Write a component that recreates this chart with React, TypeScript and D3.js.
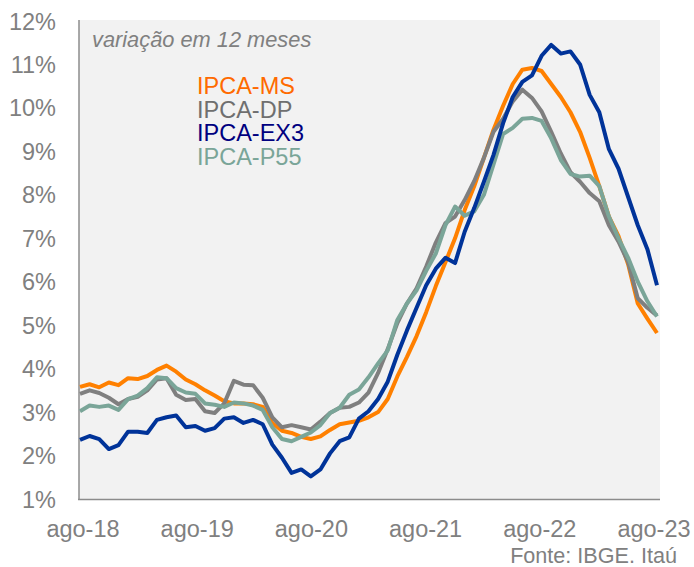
import React, { useRef, useEffect } from 'react';
import * as d3 from 'd3';

// 12-month variation, monthly from ago-18 to ago-23
const ipcaMS = [
  3.58, 3.64, 3.57, 3.68, 3.62, 3.78, 3.76, 3.83, 3.97, 4.07, 3.93, 3.75,
  3.64, 3.5, 3.38, 3.25, 3.2, 3.2, 3.18, 3.12, 2.75, 2.57, 2.52, 2.43,
  2.38, 2.44, 2.59, 2.72, 2.76, 2.8, 2.88, 3.0, 3.3, 3.82, 4.27, 4.75,
  5.3, 5.9, 6.45, 7.0, 7.65, 8.2, 8.85, 9.5, 10.05, 10.55, 10.88, 10.92,
  10.85, 10.55, 10.25, 9.9, 9.45, 8.85, 8.2, 7.5, 7.05, 6.4, 5.5, 5.15, 4.82,
];
const ipcaDP = [
  3.42, 3.5, 3.44, 3.33, 3.18, 3.3, 3.35, 3.5, 3.75, 3.78, 3.4, 3.28,
  3.3, 3.02, 2.98, 3.2, 3.72, 3.63, 3.62, 3.33, 2.88, 2.65, 2.7, 2.65,
  2.6, 2.78, 2.98, 3.1, 3.12, 3.22, 3.45, 3.9, 4.45, 5.05, 5.5, 5.85,
  6.35, 6.9, 7.35, 7.5, 7.88, 8.32, 8.85, 9.45, 9.75, 10.15, 10.42, 10.23,
  9.92, 9.45, 8.95, 8.52, 8.3, 8.04, 7.85, 7.3, 6.92, 6.45, 5.62, 5.4, 5.22,
];
const ipcaEX3 = [
  2.36, 2.45, 2.38, 2.15, 2.24, 2.55, 2.55, 2.52, 2.82, 2.88, 2.92, 2.65,
  2.68, 2.57, 2.63, 2.85, 2.88, 2.75, 2.82, 2.72, 2.25, 1.95, 1.6, 1.68,
  1.52, 1.68, 2.05, 2.33, 2.42, 2.85, 3.02, 3.3, 3.7, 4.32, 4.88, 5.4,
  5.92, 6.3, 6.55, 6.43, 7.15, 7.7, 8.3, 8.92, 9.65, 10.25, 10.6, 10.75,
  11.2, 11.45, 11.25, 11.3, 11.0, 10.3, 9.9, 9.05, 8.6, 7.95, 7.3, 6.75, 5.92,
];
const ipcaP55 = [
  3.02, 3.15, 3.12, 3.15, 3.05, 3.3, 3.38, 3.55, 3.8, 3.78, 3.55, 3.45,
  3.42, 3.2, 3.17, 3.12, 3.22, 3.2, 3.15, 3.05, 2.65, 2.38, 2.33, 2.43,
  2.53, 2.7, 2.98, 3.1, 3.4, 3.52, 3.8, 4.12, 4.42, 5.12, 5.5, 5.8,
  6.25, 6.65, 7.3, 7.73, 7.52, 7.62, 8.0, 8.7, 9.4, 9.54, 9.75, 9.77,
  9.7, 9.3, 8.8, 8.48, 8.42, 8.44, 8.2, 7.5, 7.0, 6.55, 6.0, 5.55, 5.2,
];

const xTickLabels = ['ago-18', 'ago-19', 'ago-20', 'ago-21', 'ago-22', 'ago-23'];
const yTicks = [1, 2, 3, 4, 5, 6, 7, 8, 9, 10, 11, 12];

const series = [
  { name: 'IPCA-MS', values: ipcaMS, line: '#ff8000', text: '#ff6a00' },
  { name: 'IPCA-DP', values: ipcaDP, line: '#7f7f7f', text: '#6f6f6f' },
  { name: 'IPCA-P55', values: ipcaP55, line: '#7aa598', text: '#7aa598' },
  { name: 'IPCA-EX3', values: ipcaEX3, line: '#003399', text: '#000080' },
];
const legendOrder = ['IPCA-MS', 'IPCA-DP', 'IPCA-EX3', 'IPCA-P55'];

const App: React.FC = () => {
  const ref = useRef<SVGSVGElement | null>(null);

  useEffect(() => {
    const svg = d3.select(ref.current);
    svg.selectAll('*').remove();

    const font = 'Liberation Sans, Arial, sans-serif';
    const x = d3.scaleLinear().domain([0, 60]).range([80, 657]);
    const y = d3.scaleLinear().domain([1, 12]).range([499, 21]);
    const xLab = d3.scalePoint<string>().domain(xTickLabels).range([83, 654]);

    svg.append('rect')
      .attr('x', 79).attr('y', 20)
      .attr('width', 581).attr('height', 480)
      .attr('fill', '#f2f2f2');

    svg.append('line')
      .attr('x1', 79).attr('x2', 79).attr('y1', 20).attr('y2', 500)
      .attr('stroke', '#8c8c8c').attr('stroke-width', 1.5);
    svg.append('line')
      .attr('x1', 78).attr('x2', 660).attr('y1', 499.5).attr('y2', 499.5)
      .attr('stroke', '#8c8c8c').attr('stroke-width', 1.5);

    svg.append('g').selectAll('text')
      .data(yTicks)
      .join('text')
      .attr('x', 56)
      .attr('y', d => y(d) + 8.5)
      .attr('text-anchor', 'end')
      .attr('font-family', font)
      .attr('font-size', 23.5)
      .attr('fill', '#808080')
      .text(d => `${d}%`);

    svg.append('g').selectAll('text')
      .data(xTickLabels)
      .join('text')
      .attr('x', d => xLab(d)!)
      .attr('y', 537)
      .attr('text-anchor', 'middle')
      .attr('font-family', font)
      .attr('font-size', 23.5)
      .attr('fill', '#808080')
      .text(d => d);

    const line = d3.line<number>()
      .x((d, i) => x(i))
      .y(d => y(d));

    svg.append('g').selectAll('path')
      .data(series)
      .join('path')
      .attr('d', d => line(d.values))
      .attr('fill', 'none')
      .attr('stroke', d => d.line)
      .attr('stroke-width', 4)
      .attr('stroke-linejoin', 'round');

    svg.append('text')
      .attr('x', 92).attr('y', 47)
      .attr('font-family', font)
      .attr('font-style', 'italic')
      .attr('font-size', 21.8)
      .attr('fill', '#808080')
      .text('variação em 12 meses');

    svg.append('g').selectAll('text')
      .data(legendOrder)
      .join('text')
      .attr('x', 197)
      .attr('y', (d, i) => 94 + i * 23.5)
      .attr('font-family', font)
      .attr('font-size', 23.5)
      .attr('fill', d => series.find(s => s.name === d)!.text)
      .text(d => d);

    svg.append('text')
      .attr('x', 677).attr('y', 563)
      .attr('text-anchor', 'end')
      .attr('font-family', font)
      .attr('font-size', 21.6)
      .attr('fill', '#808080')
      .text('Fonte: IBGE. Itaú');
  }, []);

  return (
    <svg ref={ref} width={694} height={567}
      style={{ position: 'absolute', left: 0, top: 0, background: '#fff' }} />
  );
};

export default App;
